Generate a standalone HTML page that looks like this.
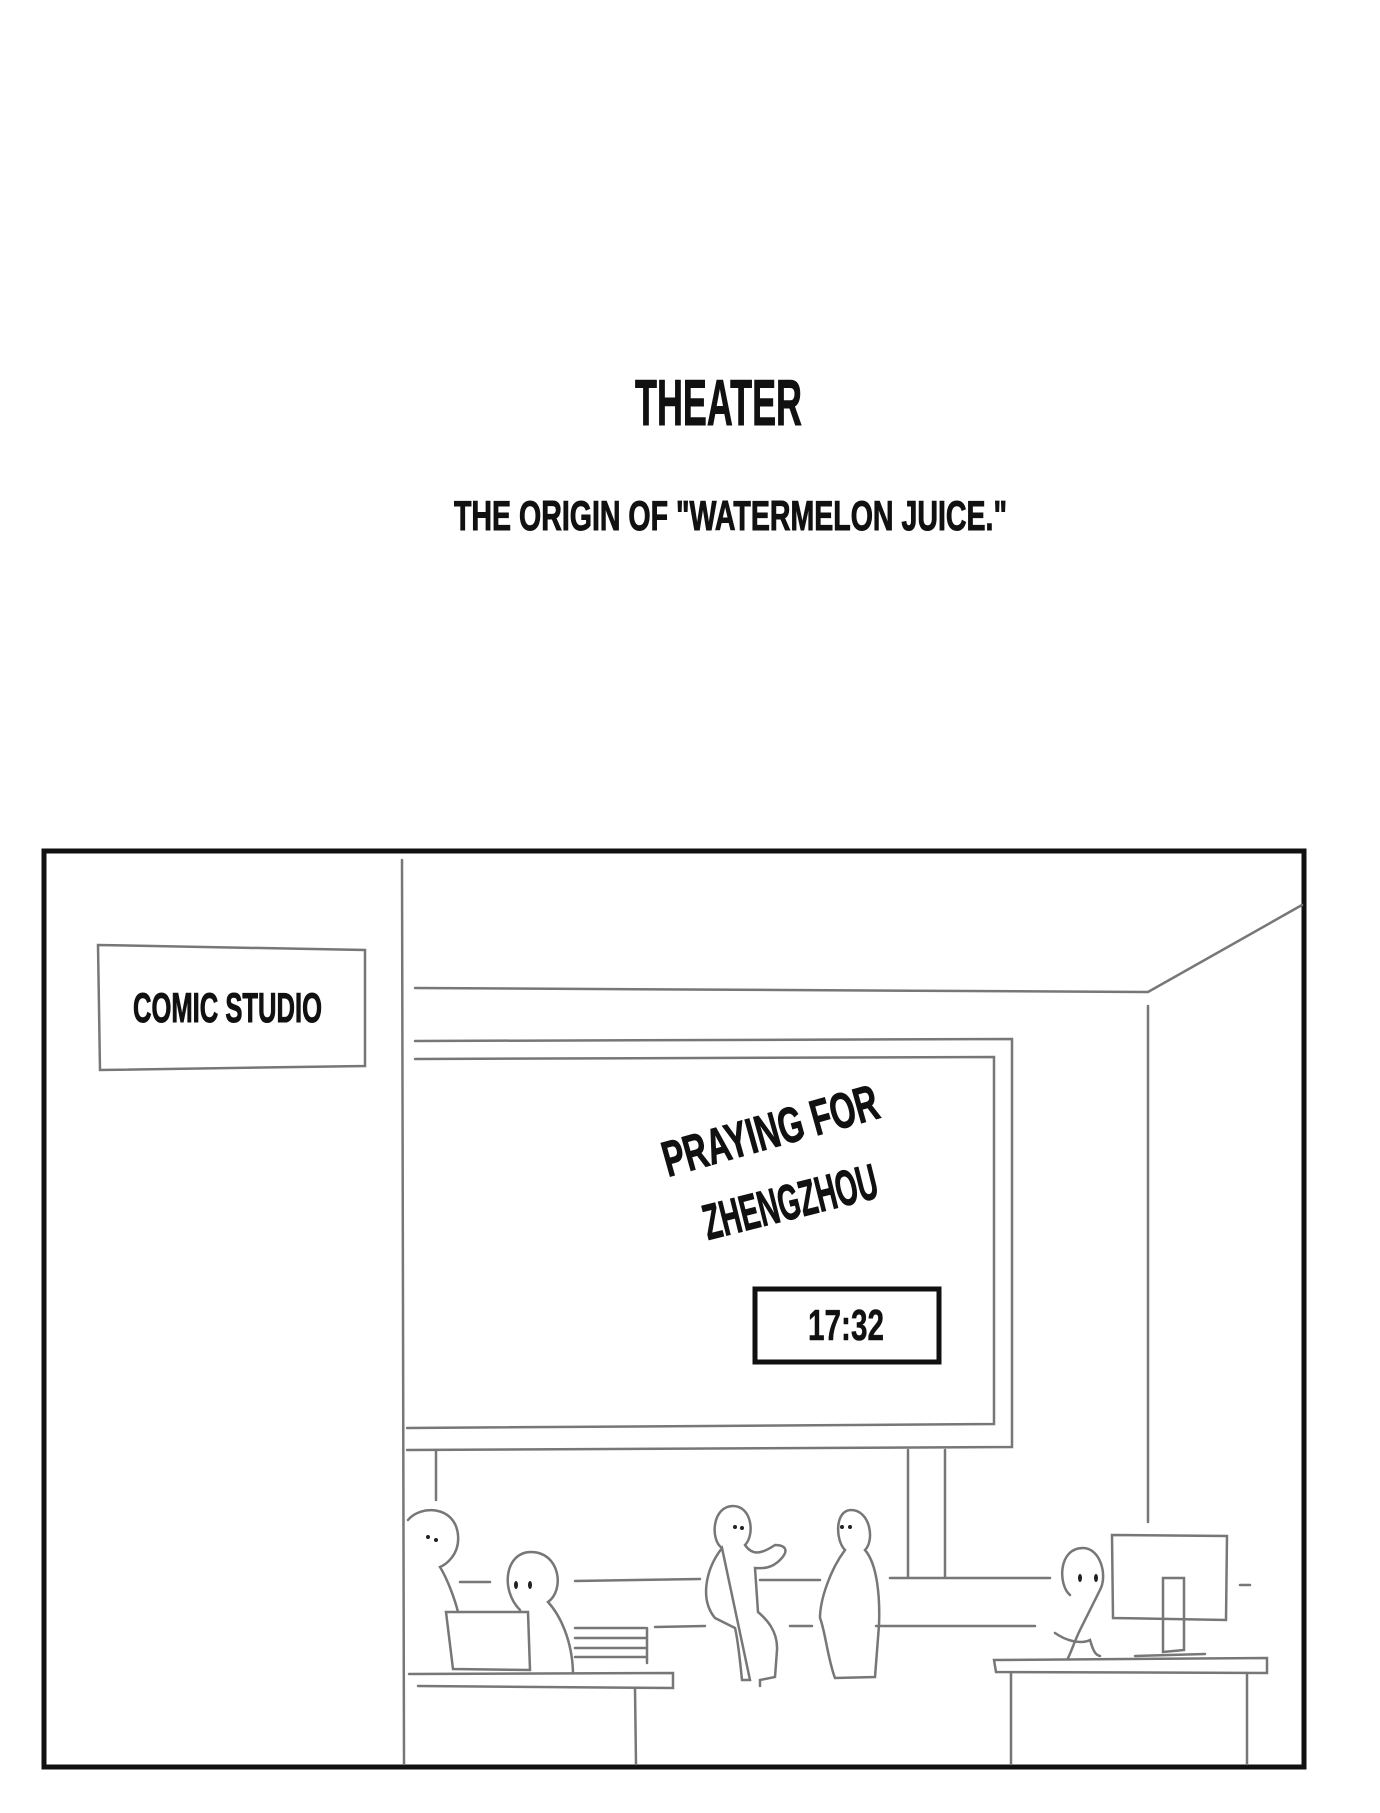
<!DOCTYPE html>
<html><head><meta charset="utf-8"><style>
html,body{margin:0;padding:0;background:#fff;}
svg{display:block;}
text{font-family:"Liberation Sans",sans-serif;font-weight:bold;fill:#111;stroke:#111;stroke-width:1;}
</style></head><body>
<svg width="1380" height="1813" viewBox="0 0 1380 1813" xmlns="http://www.w3.org/2000/svg">
<rect width="1380" height="1813" fill="#fff"/>
<text x="635" y="425" font-size="65" textLength="167" lengthAdjust="spacingAndGlyphs">THEATER</text>
<text x="454" y="530" font-size="42" textLength="553" lengthAdjust="spacingAndGlyphs">THE ORIGIN OF "WATERMELON JUICE."</text>

<rect x="44" y="851" width="1260" height="916" fill="none" stroke="#111" stroke-width="5"/>

<g fill="none" stroke="#777" stroke-width="2.5" stroke-linecap="round">
<path d="M98 945 L365 950 L365 1066 L100 1070 Z"/>
<path d="M402 860 L404 1764"/>
<path d="M415 988 L1148 992 L1302 905"/>
<path d="M1148 1006 L1148 1522"/>
<path d="M415 1041 L1012 1039 L1012 1447 L407 1450"/>
<path d="M415 1059 L994 1057 L994 1424 L407 1428"/>
<path d="M436 1450 L436 1500"/>
<path d="M908 1450 L908 1577 M945 1450 L945 1577"/>
<path d="M460 1582 L490 1582 M575 1581 L700 1579 M760 1580 L820 1580 M890 1578 L1050 1578 M1240 1585 L1250 1585"/>
<path d="M655 1627 L705 1626 M790 1626 L812 1626 M876 1626 L1035 1626"/>
<path d="M409 1674 L673 1673 L673 1688 L418 1686"/>
<path d="M635 1688 L636 1764"/>
<path d="M446 1612 L528 1612 L530 1670 L453 1669 Z"/>
<path d="M575 1628 L645 1628 M575 1638 L647 1638 M575 1648 L647 1648 M575 1657 L647 1657 M647 1628 L647 1663"/>
<path d="M408 1520 C420 1505 455 1505 458 1535 C460 1555 445 1565 440 1567 C448 1580 455 1600 458 1612"/>
<path d="M520 1610 C500 1590 505 1552 531 1552 C560 1552 565 1590 548 1602 C560 1615 572 1640 573 1672"/>
<path d="M722 1548 C710 1540 712 1506 733 1506 C752 1506 755 1535 745 1545 C752 1555 760 1555 775 1545 C785 1545 790 1550 780 1560 C770 1570 760 1568 755 1568 L758 1612 C765 1618 778 1630 777 1650 L775 1677 L760 1680 L760 1686 M750 1680 L742 1680 C740 1660 738 1640 735 1628 L715 1618 C700 1600 705 1570 722 1548 Z"/>
<path d="M845 1550 C835 1540 835 1510 851 1510 C870 1510 875 1540 865 1550 C878 1565 880 1600 879 1625 L875 1677 L835 1678 C828 1660 825 1630 820 1618 C820 1600 830 1570 845 1550 Z"/>
<path d="M1070 1595 C1058 1585 1058 1548 1083 1548 C1100 1548 1108 1575 1100 1590 C1095 1600 1090 1610 1080 1630 C1075 1640 1070 1655 1068 1658 M1055 1633 C1065 1640 1080 1645 1090 1640 C1093 1650 1095 1655 1100 1656"/>
<path d="M1112 1535 L1227 1536 L1226 1620 L1113 1618 Z"/>
<path d="M1163 1578 L1184 1578 L1184 1650 L1163 1652 Z M1135 1656 L1205 1654"/>
<path d="M994 1660 L1267 1658 L1267 1673 L996 1672 Z"/>
<path d="M1011 1673 L1011 1764 M1247 1673 L1247 1764"/>
</g>
<g fill="#222"><circle cx="428" cy="1537" r="2"/><circle cx="436" cy="1540" r="2"/>
<ellipse cx="516" cy="1585" rx="2" ry="4"/><ellipse cx="530" cy="1585" rx="2" ry="4"/>
<circle cx="735" cy="1527" r="2"/><circle cx="742" cy="1528" r="2"/>
<circle cx="842" cy="1527" r="2"/><circle cx="850" cy="1527" r="2"/>
<ellipse cx="1080" cy="1578" rx="2" ry="4"/><ellipse cx="1096" cy="1578" rx="2" ry="4"/></g>

<text x="133" y="1022" font-size="42" textLength="189" lengthAdjust="spacingAndGlyphs">COMIC STUDIO</text>
<text transform="translate(668,1177) rotate(-15.6)" font-size="50" textLength="222" lengthAdjust="spacingAndGlyphs">PRAYING FOR</text>
<text transform="translate(708,1240) rotate(-14)" font-size="50" textLength="178" lengthAdjust="spacingAndGlyphs">ZHENGZHOU</text>
<rect x="755" y="1289" width="184" height="73" fill="none" stroke="#111" stroke-width="5"/>
<text x="808" y="1340" font-size="44" textLength="76" lengthAdjust="spacingAndGlyphs" font-weight="normal" style="stroke-width:0.5">17:32</text>
</svg>
</body></html>
